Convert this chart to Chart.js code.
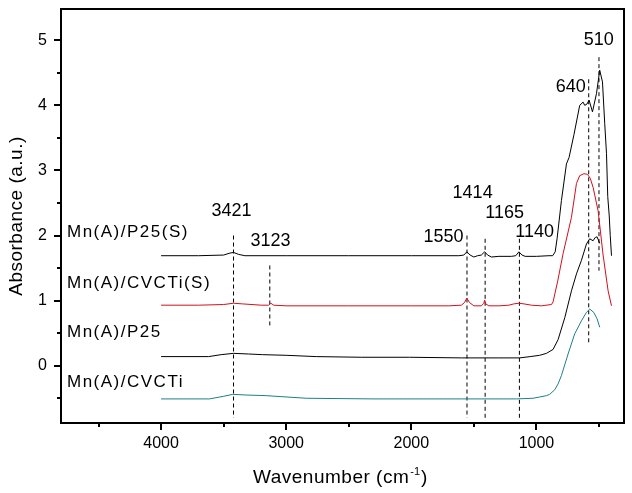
<!DOCTYPE html>
<html>
<head>
<meta charset="utf-8">
<script src="https://cdn.jsdelivr.net/npm/chart.js@4.4.0/dist/chart.umd.min.js"></script>
<style>
  html, body { margin: 0; padding: 0; background: #fff; }
  #wrap { width: 632px; height: 493px; }
</style>
</head>
<body>
<div id="wrap"><canvas id="ftir" width="632" height="493"></canvas></div>
<script>
// spectra: wavenumber (cm-1) and absorbance (a.u.)
const p25sWave = [4000, 3700, 3500, 3450, 3421, 3380, 3330, 3000, 2500, 2000, 1620, 1580, 1556, 1530, 1500, 1470, 1440, 1414, 1390, 1360, 1300, 1200, 1165, 1140, 1115, 1090, 1000, 900, 870, 850, 835, 800, 760, 739, 700, 654, 627, 614, 596, 579, 552, 520, 494, 472, 454, 440, 430, 418, 410, 400];
const p25sAbs = [1.69, 1.69, 1.70, 1.73, 1.74, 1.71, 1.69, 1.69, 1.69, 1.69, 1.69, 1.70, 1.75, 1.70, 1.67, 1.69, 1.70, 1.75, 1.70, 1.67, 1.68, 1.68, 1.69, 1.75, 1.70, 1.68, 1.68, 1.69, 1.69, 1.75, 1.95, 2.54, 3.10, 3.20, 3.55, 4.00, 4.05, 4.00, 4.02, 4.08, 3.90, 4.18, 4.54, 4.36, 3.72, 3.26, 2.60, 2.30, 2.00, 1.69];

const cvctisWave = [4000, 3700, 3500, 3421, 3350, 3200, 3140, 3123, 3100, 3000, 2500, 2000, 1700, 1600, 1575, 1556, 1535, 1500, 1440, 1420, 1414, 1405, 1380, 1300, 1220, 1180, 1140, 1100, 1040, 960, 880, 867, 830, 787, 720, 680, 654, 620, 592, 570, 547, 507, 467, 427, 400];
const cvctisAbs = [0.93, 0.93, 0.94, 0.96, 0.95, 0.93, 0.93, 0.96, 0.93, 0.92, 0.92, 0.92, 0.92, 0.93, 0.97, 1.04, 0.97, 0.92, 0.92, 0.96, 1.01, 0.95, 0.92, 0.92, 0.93, 0.95, 0.96, 0.95, 0.93, 0.92, 0.94, 0.98, 1.30, 1.72, 2.28, 2.80, 2.92, 2.95, 2.94, 2.88, 2.74, 2.38, 1.70, 1.15, 0.92];

const p25Wave = [4000, 3620, 3520, 3421, 3300, 3190, 3000, 2760, 2400, 2014, 1600, 1300, 1134, 1050, 974, 920, 867, 827, 773, 720, 680, 640, 600, 574, 547, 530, 515, 494];
const p25Abs = [0.14, 0.14, 0.17, 0.19, 0.18, 0.17, 0.16, 0.14, 0.13, 0.13, 0.12, 0.12, 0.12, 0.14, 0.16, 0.19, 0.25, 0.40, 0.74, 1.15, 1.41, 1.62, 1.87, 1.95, 1.92, 1.97, 1.98, 1.88];

const cvctiWave = [4000, 3614, 3500, 3427, 3320, 3160, 2840, 2307, 1600, 1160, 1027, 974, 920, 894, 854, 827, 800, 747, 694, 640, 600, 574, 542, 515, 494];
const cvctiAbs = [-0.51, -0.51, -0.47, -0.44, -0.45, -0.46, -0.50, -0.51, -0.51, -0.51, -0.50, -0.48, -0.46, -0.44, -0.37, -0.28, -0.15, 0.18, 0.49, 0.69, 0.82, 0.87, 0.82, 0.72, 0.59];

const seriesNames = ["Mn(A)/P25(S)", "Mn(A)/CVCTi(S)", "Mn(A)/P25", "Mn(A)/CVCTi"];

// dashed guide lines (where they are drawn in the figure) and the band labels
const guideWave = [3421, 3131, 1555, 1410, 1136, 582, 500];
const guideTop = [2.0, 1.54, 2.0, 1.95, 1.95, 4.4, 4.74];
const guideBottom = [-0.8, 0.62, -0.8, -0.8, -0.8, 0.33, 1.46];
const peakLabels = ["3421", "3123", "1550", "1414", "1165", "1140", "640", "510"];

const xMajor = [4000, 3000, 2000, 1000];
const xMinor = [4500, 3500, 2500, 1500, 500];
const yMajor = [0, 1, 2, 3, 4, 5];
const yMinor = [-0.5, 0.5, 1.5, 2.5, 3.5, 4.5];

const FONT = "'Liberation Sans', Arial, sans-serif";

// where the texts sit, in axis units
const peakAt = [[3438, 2.38], [3126, 1.92], [1742, 1.97], [1510, 2.65], [1254, 2.35], [1014, 2.05], [726, 4.28], [502, 5.0]];
const nameAtY = [2.05, 1.27, 0.51, -0.25];

const toPoints = (xs, ys) => xs.map((x, i) => ({ x: x, y: ys[i] }));

const spectra = [
  { data: toPoints(p25sWave, p25sAbs), color: "#000000" },
  { data: toPoints(cvctisWave, cvctisAbs), color: "#d0101c" },
  { data: toPoints(p25Wave, p25Abs), color: "#000000" },
  { data: toPoints(cvctiWave, cvctiAbs), color: "#1d7f86" },
];

const datasets = spectra.map((s, i) => ({
  label: seriesNames[i],
  data: s.data,
  borderColor: s.color,
  borderWidth: 1,
  pointRadius: 0,
  tension: 0,
  fill: false,
}));

guideWave.forEach((w, i) => {
  datasets.push({
    label: "guide" + i,
    data: [{ x: w, y: guideTop[i] }, { x: w, y: guideBottom[i] }],
    borderColor: "#000000",
    borderWidth: 1,
    borderDash: [4, 3],
    pointRadius: 0,
    fill: false,
  });
});

const frame = {
  id: "frame",
  afterDraw(chart) {
    const { ctx, chartArea: a, scales } = chart;
    const xs = scales.x, ys = scales.y;
    ctx.save();
    ctx.strokeStyle = "#000";
    ctx.lineWidth = 2;
    ctx.strokeRect(a.left, a.top, a.right - a.left, a.bottom - a.top);

    ctx.beginPath();
    xMajor.forEach(v => { const p = Math.round(xs.getPixelForValue(v)); ctx.moveTo(p, a.bottom); ctx.lineTo(p, a.bottom + 7); });
    xMinor.forEach(v => { const p = Math.round(xs.getPixelForValue(v)); ctx.moveTo(p, a.bottom); ctx.lineTo(p, a.bottom + 4); });
    yMajor.forEach(v => { const p = Math.round(ys.getPixelForValue(v)); ctx.moveTo(a.left, p); ctx.lineTo(a.left - 7, p); });
    yMinor.forEach(v => { const p = Math.round(ys.getPixelForValue(v)); ctx.moveTo(a.left, p); ctx.lineTo(a.left - 4, p); });
    ctx.stroke();

    ctx.fillStyle = "#000";
    ctx.textBaseline = "middle";

    // band labels
    ctx.font = "18px " + FONT;
    ctx.textAlign = "center";
    peakLabels.forEach((t, i) => {
      ctx.fillText(t, xs.getPixelForValue(peakAt[i][0]), ys.getPixelForValue(peakAt[i][1]));
    });

    // sample names
    ctx.font = "17px " + FONT;
    ctx.textAlign = "left";
    ctx.letterSpacing = "1.5px";
    seriesNames.forEach((t, i) => {
      ctx.fillText(t, a.left + 6, ys.getPixelForValue(nameAtY[i]));
    });

    // axis titles
    ctx.font = "19px " + FONT;
    ctx.letterSpacing = "0.5px";
    ctx.save();
    ctx.translate(17, 216);
    ctx.rotate(-Math.PI / 2);
    ctx.textAlign = "center";
    ctx.fillText("Absorbance (a.u.)", 0, 0);
    ctx.restore();

    const main = "Wavenumber (cm";
    ctx.textAlign = "left";
    let x0 = 253;
    ctx.fillText(main, x0, 478);
    x0 += ctx.measureText(main).width;
    ctx.font = "11px " + FONT;
    ctx.letterSpacing = "0px";
    ctx.fillText("-1", x0 + 1, 472);
    x0 += ctx.measureText("-1").width + 2;
    ctx.font = "19px " + FONT;
    ctx.fillText(")", x0, 478);
    ctx.restore();
  },
};

new Chart(document.getElementById("ftir"), {
  type: "line",
  data: { datasets: datasets },
  options: {
    responsive: false,
    animation: false,
    layout: { padding: { top: 9, right: 8, left: 0, bottom: 0 } },
    plugins: { legend: { display: false }, tooltip: { enabled: false } },
    scales: {
      x: {
        type: "linear",
        reverse: true,
        min: 300,
        max: 4800,
        afterBuildTicks: s => { s.ticks = xMajor.map(v => ({ value: v })); },
        afterFit: s => { s.height = 70; s.paddingLeft = 0; s.paddingRight = 0; },
        grid: { display: false, drawTicks: false },
        border: { display: false },
        ticks: { color: "#000", padding: 11, maxRotation: 0, font: { family: FONT, size: 16 }, callback: v => String(v) },
      },
      y: {
        type: "linear",
        min: -0.88,
        max: 5.48,
        afterBuildTicks: s => { s.ticks = yMajor.map(v => ({ value: v })); },
        afterFit: s => { s.width = 61; s.paddingTop = 0; s.paddingBottom = 0; },
        grid: { display: false, drawTicks: false },
        border: { display: false },
        ticks: { color: "#000", padding: 14, font: { family: FONT, size: 16 }, callback: v => String(v) },
      },
    },
  },
  plugins: [frame],
});
</script>
</body>
</html>
